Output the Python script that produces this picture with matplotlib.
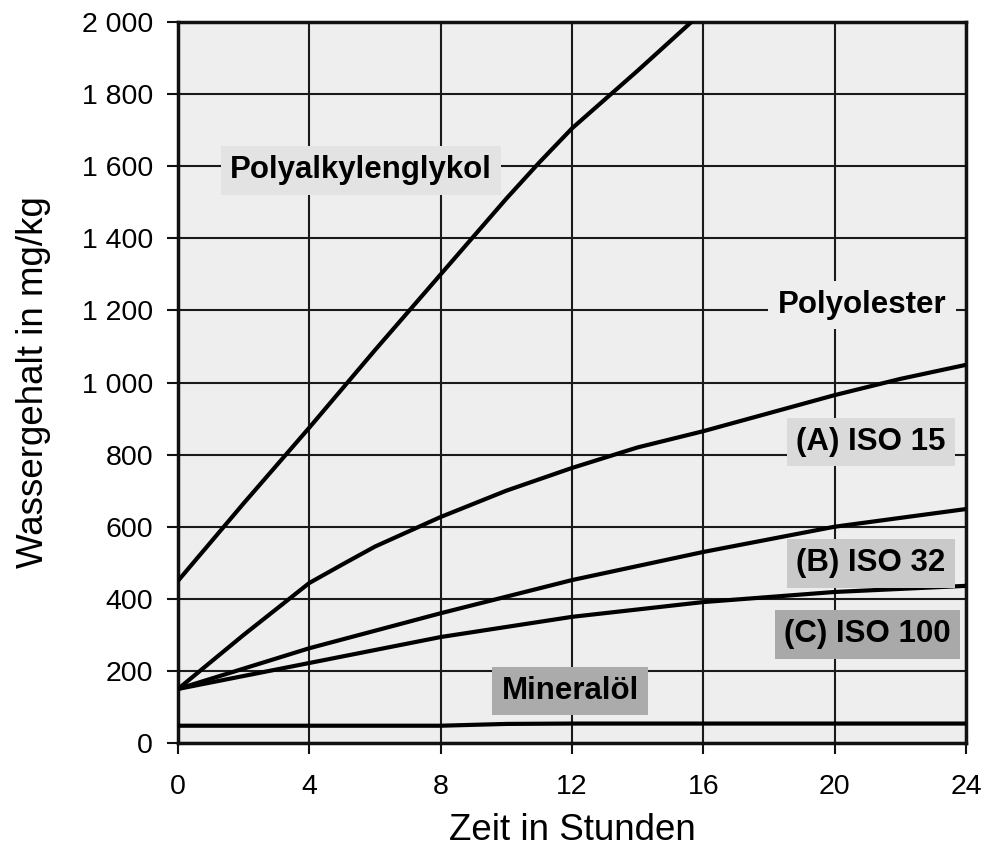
import matplotlib
matplotlib.use("Agg")
import matplotlib.pyplot as plt

plt.rcParams['font.family'] = ['Liberation Sans', 'DejaVu Sans']

# Data (hours, mg/kg)
pag_x = [0, 2, 4, 6, 8, 10, 11, 12, 14, 16]
pag_y = [450, 665, 875, 1090, 1300, 1510, 1610, 1705, 1865, 2030]

poe_x = [0, 2, 4, 5, 6, 8, 10, 12, 14, 16, 18, 20, 22, 24]
poe_y = [150, 300, 444, 495, 545, 627, 700, 763, 820, 865, 915, 965, 1010, 1049]

iso32_x = [0, 4, 8, 12, 16, 20, 24]
iso32_y = [150, 263, 360, 452, 530, 600, 649]

iso100_x = [0, 4, 8, 12, 16, 20, 24]
iso100_y = [150, 222, 294, 350, 391, 419, 436]

min_x = [0, 4, 8, 10, 12, 16, 20, 24]
min_y = [48, 48, 48, 53, 54, 54, 54, 54]

x_ticks = [0, 4, 8, 12, 16, 20, 24]
y_ticks = [0, 200, 400, 600, 800, 1000, 1200, 1400, 1600, 1800, 2000]
y_ticklabels = ["0", "200", "400", "600", "800", "1 000", "1 200", "1 400", "1 600", "1 800", "2 000"]

labels = ["Polyalkylenglykol", "Polyolester", "(A) ISO 15", "(B) ISO 32", "(C) ISO 100", "Mineralöl"]
label_x = [5.57, 20.83, 21.1, 21.1, 21.0, 11.94]
label_y = [1589, 1215, 835, 499, 302, 144]
label_bg = ["#e3e3e3", "#eeeeee", "#dadada", "#c9c9c9", "#a9a9a9", "#ababab"]

fig = plt.figure(figsize=(9.82, 8.52), dpi=100)
ax = fig.add_axes([0.1813, 0.1279, 0.8024, 0.8463])
ax.set_facecolor("#eeeeee")

for xs, ys in [(pag_x, pag_y), (poe_x, poe_y), (iso32_x, iso32_y), (iso100_x, iso100_y), (min_x, min_y)]:
    ax.plot(xs, ys, color="black", lw=3.0, solid_capstyle="butt", zorder=3, clip_on=True)

ax.set_xlim(0, 24)
ax.set_ylim(0, 2000)
ax.set_xticks(x_ticks)
ax.set_xticklabels([str(t) for t in x_ticks])
ax.set_yticks(y_ticks)
ax.set_yticklabels(y_ticklabels)
ax.grid(True, color="#1a1a1a", lw=1.5, zorder=1)
ax.set_axisbelow(True)
for s in ax.spines.values():
    s.set_linewidth(2.5)
    s.set_color("#111111")
ax.tick_params(axis="both", direction="out", length=8, width=1.5, labelsize=20.5, color="#111111")
ax.tick_params(axis="x", pad=14)
ax.tick_params(axis="y", pad=10)

ax.set_xlabel("Zeit in Stunden", fontsize=26.5, labelpad=10)
ax.set_ylabel("Wassergehalt in mg/kg", fontsize=26.5, labelpad=22)

for t, x, y, bg in zip(labels, label_x, label_y, label_bg):
    ax.text(x, y, t, ha="center", va="center", fontsize=22.5, fontweight="bold", zorder=4,
            bbox=dict(boxstyle="square,pad=0.3", fc=bg, ec="none"))

fig.savefig("out.png", dpi=100)
